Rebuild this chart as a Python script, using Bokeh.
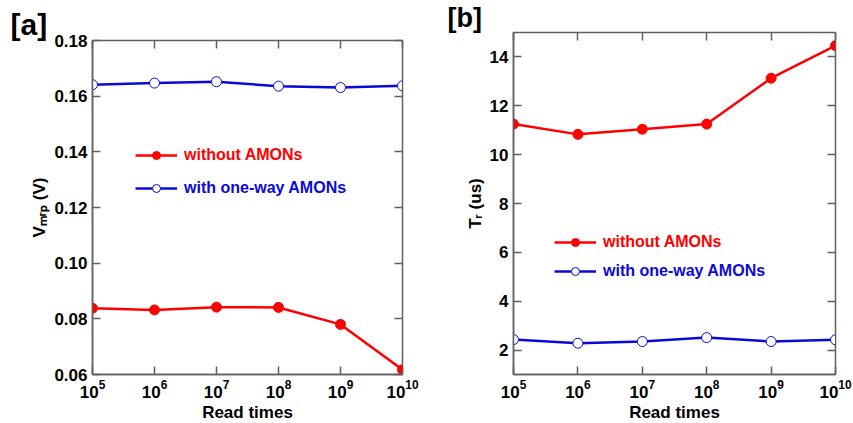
import math
from bokeh.plotting import figure
from bokeh.layouts import row, column
from bokeh.models import (FixedTicker, NumeralTickFormatter,
                          LinearAxis, LogAxis, Legend, LegendItem, Title)
from bokeh.embed import file_html
from bokeh.resources import INLINE

# ---------------- data ----------------
read_times = [1e5, 1e6, 1e7, 1e8, 1e9, 1e10]
x_ticks = [1e5, 1e6, 1e7, 1e8, 1e9, 1e10]

vmrp_without = [0.0838, 0.0832, 0.0842, 0.0841, 0.0780, 0.0617]
vmrp_with = [0.1641, 0.1647, 0.1652, 0.1636, 0.1631, 0.1637]
vmrp_ticks = [0.06, 0.08, 0.10, 0.12, 0.14, 0.16, 0.18]

tr_without = [11.25, 10.83, 11.04, 11.25, 13.13, 14.46]
tr_with = [2.43, 2.28, 2.35, 2.51, 2.35, 2.42]
tr_ticks = [2, 4, 6, 8, 10, 12, 14]

label_without = "without AMONs"
label_with = "with one-way AMONs"

RED = "#ff0000"
BLUE = "#0a0ad8"
GRAY = "#606060"
FONT = "Liberation Sans"


def make_panel(yvals_r, yvals_b, yrange, yticks, ylabel, yfmt, fw, fh, bl, br, bt, bb,
               leg_x, leg_y1, leg_y2, tag, tag_offset, tag_size):
    p = figure(x_axis_type="log", x_range=(1e5, 1e10), y_range=yrange, title=None,
               frame_width=fw, frame_height=fh,
               min_border_left=bl, min_border_right=br, min_border_top=bt, min_border_bottom=bb,
               output_backend="svg", toolbar_location=None)
    p.grid.visible = False
    p.outline_line_color = GRAY
    p.outline_line_width = 1.5
    p.background_fill_color = "white"
    p.border_fill_color = "white"

    xa = p.xaxis[0]
    xa.ticker = FixedTicker(ticks=x_ticks, minor_ticks=[])
    xa.axis_label = "Read times"
    ya = p.yaxis[0]
    ya.ticker = FixedTicker(ticks=yticks, minor_ticks=[])
    if yfmt:
        ya.formatter = NumeralTickFormatter(format=yfmt)
    ya.axis_label = ylabel
    for ax in (xa, ya):
        ax.axis_line_color = GRAY
        ax.axis_line_width = 1.5
        ax.major_tick_in = 8
        ax.major_tick_out = 0
        ax.major_tick_line_color = GRAY
        ax.major_tick_line_width = 1.5
        ax.minor_tick_line_color = None
        ax.major_label_text_font = FONT
        ax.major_label_text_font_style = "bold"
        ax.major_label_text_font_size = "17px"
        ax.major_label_text_color = "black"
        ax.axis_label_text_font = FONT
        ax.axis_label_text_font_style = "bold"
        ax.axis_label_text_font_size = "17px"
        ax.axis_label_text_color = "black"
        ax.major_label_standoff = 5
        ax.axis_label_standoff = 2

    top = LogAxis(ticker=FixedTicker(ticks=x_ticks, minor_ticks=[]))
    right = LinearAxis(ticker=FixedTicker(ticks=yticks, minor_ticks=[]))
    for ax in (top, right):
        ax.axis_line_color = GRAY
        ax.major_tick_in = 8
        ax.major_tick_out = 0
        ax.major_tick_line_color = GRAY
        ax.major_tick_line_width = 1.5
        ax.minor_tick_line_color = None
        ax.major_label_text_font_size = "1px"
        ax.major_label_text_color = None
        ax.major_label_standoff = 0
    p.add_layout(top, "above")
    p.add_layout(right, "right")

    lr = p.line(read_times, yvals_r, line_color=RED, line_width=2.5)
    sr = p.scatter(read_times, yvals_r, size=10, fill_color=RED, line_color=RED)
    lb = p.line(read_times, yvals_b, line_color=BLUE, line_width=2.5)
    sb = p.scatter(read_times, yvals_b, size=10, fill_color="white", line_color=BLUE, line_width=1)

    for lbl, rends, col, ly in ((label_without, [lr, sr], RED, leg_y1),
                                (label_with, [lb, sb], BLUE, leg_y2)):
        leg = Legend(items=[LegendItem(label=lbl, renderers=rends)],
                     location=(leg_x, ly), glyph_width=42, glyph_height=20,
                     label_text_font=FONT, label_text_font_style="bold",
                     label_text_font_size="16px", label_text_color=col,
                     label_standoff=7, padding=0, margin=0,
                     background_fill_alpha=0, border_line_alpha=0)
        p.add_layout(leg)

    p.add_layout(Title(text=tag, offset=tag_offset, standoff=0, align="left",
                       text_font=FONT, text_font_style="bold",
                       text_font_size=tag_size, text_color="black"), "above")
    return p


pa = make_panel(vmrp_without, vmrp_with, (0.06, 0.18), vmrp_ticks,
                "V\u2098\u1d63\u209a (V)", "0.00",
                310, 334, 92, 28, 40, 49, 43, 209, 176, "[a]", -82, "30px")
pb = make_panel(tr_without, tr_with, (1, 15), tr_ticks,
                "T\u1d63 (us)", None,
                322, 342, 83, 18, 28, 47, 41, 122, 93, "[b]", -66, "27px")

layout = row(column(pa), column(pb))
open("out.html", "w").write(file_html(layout, INLINE))
